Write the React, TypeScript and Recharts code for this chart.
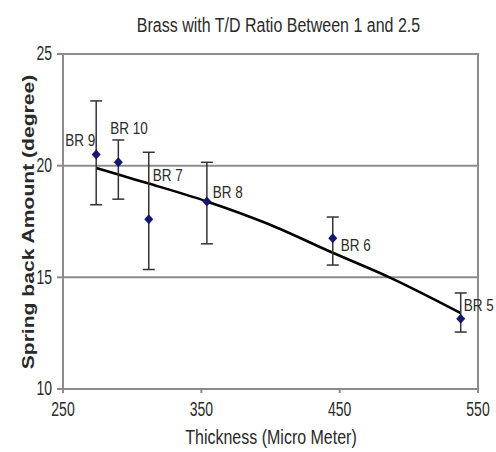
import React from "react";
import {
  ComposedChart,
  Scatter,
  Line,
  XAxis,
  YAxis,
  CartesianGrid,
  ErrorBar,
  ReferenceArea,
} from "recharts";

const samples = ["BR 9", "BR 10", "BR 7", "BR 8", "BR 6", "BR 5"];
const thickness = [274, 290, 312, 354, 445, 537.5];
const springBack = [20.5, 20.15, 17.6, 18.4, 16.75, 13.15];
const errorLow = [2.25, 1.65, 2.25, 1.9, 1.2, 0.6];
const errorHigh = [2.4, 1.0, 3.0, 1.75, 0.95, 1.15];

// polynomial trend line
const trendThickness = [274, 290, 312, 354, 398, 445, 486, 537.5];
const trendSpringBack = [19.9, 19.6, 19.2, 18.4, 17.4, 16.1, 15.0, 13.4];

const xTicks = [250, 350, 450, 550];
const yTicks = [10, 15, 20, 25];

// where each sample name sits relative to its marker: [dx to text start, dy to text middle]
const labelOffsets = [
  [-31, -14],
  [-8, -34],
  [4, -44],
  [6, -9],
  [8, 7],
  [3, -13],
];

const points = samples.map((name, i) => ({
  idx: i,
  name,
  x: thickness[i],
  y: springBack[i],
  err: [errorLow[i], errorHigh[i]],
}));

const trend = trendThickness.map((x, i) => ({ x, y: trendSpringBack[i] }));

const FONT = "'Liberation Sans', Arial, sans-serif";
const INK = "#2a2a2a";
const GRID = "#8c8c8c";
// text in this figure is drawn tall and narrow
const STRETCH = 1.3;

const Marker = (props: any) => {
  const { cx, cy, payload } = props;
  const [dx, dy] = labelOffsets[payload.idx];
  return (
    <g>
      <polygon
        points={`${cx},${cy - 5} ${cx + 4.5},${cy} ${cx},${cy + 5} ${cx - 4.5},${cy}`}
        fill="#16166e"
      />
      <text
        transform={`translate(${cx + dx},${cy + dy}) scale(1,1.2)`}
        dominantBaseline="central"
        fontFamily={FONT}
        fontSize={13.5}
        fill={INK}
      >
        {payload.name}
      </text>
    </g>
  );
};

const XTick = (props: any) => {
  const { x, y, payload } = props;
  return (
    <text
      transform={`translate(${x},${y + 15}) scale(1,1.4)`}
      textAnchor="middle"
      dominantBaseline="central"
      fontFamily={FONT}
      fontSize={14}
      fill={INK}
    >
      {payload.value}
    </text>
  );
};

const YTick = (props: any) => {
  const { x, y, payload } = props;
  return (
    <text
      transform={`translate(${x - 3},${y}) scale(1,1.4)`}
      textAnchor="end"
      dominantBaseline="central"
      fontFamily={FONT}
      fontSize={14}
      fill={INK}
    >
      {payload.value}
    </text>
  );
};

export default function App() {
  return (
    <div style={{ position: "absolute", left: 0, top: 0, width: 496, height: 452, background: "#fff" }}>
      <ComposedChart
        width={496}
        height={452}
        margin={{ top: 54, right: 18, bottom: 3, left: 0 }}
      >
        <CartesianGrid vertical={false} stroke={GRID} strokeWidth={2} />
        <ReferenceArea x1={250} x2={550} y1={10} y2={25} fill="none" stroke={GRID} strokeWidth={2} />
        <XAxis
          type="number"
          dataKey="x"
          domain={[250, 550]}
          ticks={xTicks}
          height={60}
          stroke={GRID}
          strokeWidth={2}
          tickSize={4}
          tick={<XTick />}
        />
        <YAxis
          type="number"
          dataKey="y"
          domain={[10, 25]}
          ticks={yTicks}
          width={63}
          stroke={GRID}
          strokeWidth={2}
          tickSize={6}
          tick={<YTick />}
        />
        <Line
          data={trend}
          dataKey="y"
          type="monotone"
          stroke="#000"
          strokeWidth={2.6}
          dot={false}
          isAnimationActive={false}
        />
        <Scatter data={points} dataKey="y" shape={<Marker />} isAnimationActive={false}>
          <ErrorBar dataKey="err" direction="y" width={6} stroke="#333" strokeWidth={1.5} />
        </Scatter>
      </ComposedChart>
      <svg
        width={496}
        height={452}
        style={{ position: "absolute", left: 0, top: 0, pointerEvents: "none" }}
      >
        <text
          transform={`translate(278.5,25) scale(1,${STRETCH})`}
          textAnchor="middle"
          dominantBaseline="central"
          fontFamily={FONT}
          fontSize={16}
          fill={INK}
        >
          Brass with T/D Ratio Between 1 and 2.5
        </text>
        <text
          transform={`translate(271,437) scale(1,${STRETCH})`}
          textAnchor="middle"
          dominantBaseline="central"
          fontFamily={FONT}
          fontSize={16}
          fill={INK}
        >
          Thickness (Micro Meter)
        </text>
        <text
          transform="translate(28,222) rotate(-90) scale(1.32,1)"
          textAnchor="middle"
          dominantBaseline="central"
          fontFamily={FONT}
          fontWeight="bold"
          fontSize={16}
          fill={INK}
        >
          Spring back Amount (degree)
        </text>
      </svg>
    </div>
  );
}
